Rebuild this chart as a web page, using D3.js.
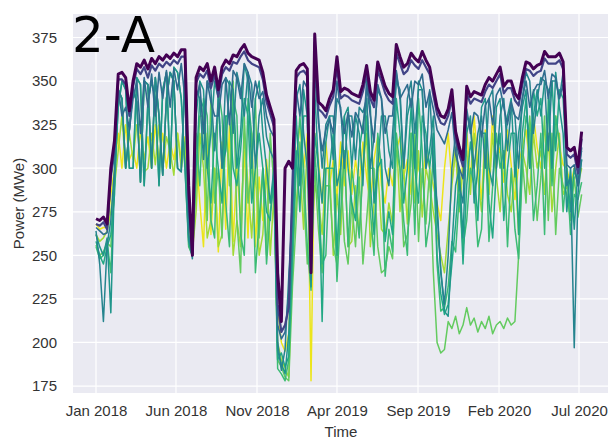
<!DOCTYPE html>
<html>
<head>
<meta charset="utf-8">
<script src="https://cdn.jsdelivr.net/npm/d3@7"></script>
<style>
  html, body { margin: 0; padding: 0; background: #ffffff; }
  svg { display: block; }
</style>
</head>
<body>
<svg id="chart" width="608" height="439"></svg>
<script>
// Weekly samples starting 2018-01-01, one value per week for each run.
const startDate = new Date(2018, 0, 1);
const weekCount = 132;

const yTicks = [175, 200, 225, 250, 275, 300, 325, 350, 375];
const xTickDates = ["2018-01-01", "2018-06-01", "2018-11-01", "2019-04-01", "2019-09-01", "2020-02-01", "2020-07-01"];
const xTickLabels = ["Jan 2018", "Jun 2018", "Nov 2018", "Apr 2019", "Sep 2019", "Feb 2020", "Jul 2020"];

// Colour position of each run on the viridis ramp (0 = dark purple, 1 = yellow)
const runShades = [0.97, 0.86, 0.76, 0.68, 0.6, 0.52, 0.45, 0.35, 0.2, 0.0];

const runY = [
  268,265,266,266,285,300,320,300,325,305, 310,300,322,305,318,300,325,305,320,300,
  315,305,320,305,318,268,255,310,280,255, 320,262,300,252,315,265,325,258,300,270,
  310,260,320,255,295,270,305,280,290,220, 200,195,205,260,305,325,300,320,178,320,
  305,280,315,290,305,282,315,290,310,285, 305,290,315,295,280,305,318,290,280,300,
  290,310,318,295,305,285,318,300,292,310, 300,290,280,270,300,320,292,312,282,305,
  322,292,330,302,282,322,292,330,302,312, 292,322,302,282,302,312,322,302,330,312,
  300,322,312,302,330,312,302,300,290,300, 300,300
];
const runYG = [
  262,258,260,264,275,290,310,330,300,320, 305,325,325,298,300,320,302,325,300,318,
  310,296,320,300,315,262,252,275,320,300, 260,270,300,255,262,320,300,250,270,255,
  320,290,260,300,250,262,300,250,285,200, 190,185,180,250,280,300,265,315,250,290,
  282,262,300,300,250,285,262,310,255,258, 290,262,300,320,255,280,300,265,262,280,
  268,320,275,300,268,320,280,310,272,300, 290,275,262,250,240,265,290,310,275,300,
  310,285,320,295,275,310,285,320,295,275, 310,285,275,300,262,310,300,285,320,300,
  310,285,320,275,300,320,285,290,280,300, 290,300
];
const runLG = [
  256,250,252,257,255,290,345,340,300,322, 345,338,292,350,348,300,352,330,296,340,
  355,350,300,298,355,256,250,290,330,330, 270,340,280,300,260,330,290,350,270,240,
  330,280,300,340,260,300,250,320,290,190, 186,180,178,232,270,315,285,245,282,300,
  265,240,290,290,255,245,300,258,245,280, 255,295,245,270,300,300,255,240,242,255,
  248,310,300,255,262,280,320,258,300,268, 300,240,200,194,196,212,208,215,205,210,
  220,210,214,206,212,208,215,205,210,212, 208,214,210,212,250,305,280,330,300,270,
  295,330,270,320,262,300,290,285,270,295, 272,285
];
const runG = [
  255,248,250,258,240,295,335,350,345,300, 300,352,348,290,338,350,340,290,345,355,
  300,358,355,340,300,255,250,320,290,340, 330,270,260,345,330,280,255,340,330,262,
  250,340,320,240,270,300,245,275,290,185, 182,178,190,242,300,330,300,255,230,310,
  280,245,250,300,300,235,275,310,255,300, 282,260,300,330,275,250,320,300,238,265,
  252,320,300,270,250,320,262,340,310,255, 270,310,245,218,220,232,258,252,285,255,
  270,300,290,255,265,320,258,290,320,300, 310,255,300,265,248,300,330,320,270,290,
  320,262,340,290,330,315,275,300,262,285, 282,292
];
const runGT = [
  258,250,245,255,262,285,345,340,300,322, 345,338,292,350,348,300,352,330,296,340,
  355,350,300,298,355,260,252,300,340,335, 300,280,320,300,280,330,330,300,290,310,
  340,330,280,300,320,300,275,270,300,190, 194,186,192,252,310,275,330,330,240,320,
  300,212,300,300,320,250,300,330,300,280, 270,310,325,340,290,262,300,305,258,275,
  262,340,320,280,300,335,300,280,330,320, 300,320,250,228,216,222,245,268,295,245,
  290,315,300,270,320,320,280,260,300,320, 270,300,320,320,262,320,340,300,345,330,
  340,300,330,350,310,345,340,300,275,300, 290,305
];
const runTG = [
  262,255,250,260,217,295,335,350,345,300, 300,352,348,290,338,350,340,290,345,355,
  300,358,355,340,300,258,250,330,350,345, 300,320,350,340,300,310,350,345,300,320,
  360,350,300,340,350,320,300,280,300,195, 188,182,205,262,330,290,345,330,232,345,
  300,280,315,330,330,290,300,330,335,300, 330,320,290,350,335,280,300,330,330,310,
  300,355,340,300,330,340,300,350,345,300, 310,330,275,242,218,215,255,290,300,260,
  320,330,280,300,335,340,300,290,335,340, 300,330,340,295,320,335,345,300,330,345,
  330,350,345,300,355,335,320,275,300,265, 300,310
];
const runT = [
  264,245,212,256,270,300,345,340,300,322, 345,338,292,350,348,300,352,330,296,340,
  355,350,300,298,355,262,248,345,340,305, 350,345,310,340,300,352,348,320,355,345,
  330,355,348,300,330,340,318,310,305,200, 184,196,238,275,340,348,320,300,236,355,
  330,300,325,330,305,340,335,300,330,330, 305,335,332,340,300,318,345,340,300,290,
  320,350,345,300,340,350,320,345,345,300, 345,300,280,240,222,250,300,320,290,280,
  330,325,300,320,330,300,340,345,300,330, 340,310,335,330,300,340,355,350,320,340,
  352,350,310,350,350,340,355,290,295,197, 285,305
];
const runBT = [
  266,264,262,263,294,308,346,330,335,322, 340,350,320,352,335,354,330,355,340,356,
  335,357,345,360,340,275,252,340,348,320, 350,338,330,330,348,352,325,356,352,340,
  360,355,335,350,340,344,330,322,318,210, 202,206,228,285,345,330,350,346,242,365,
  326,310,322,328,320,350,332,320,332,318, 332,328,320,348,330,315,348,340,320,330,
  330,356,340,344,348,335,350,348,354,335, 344,334,322,318,314,322,332,308,300,294,
  334,320,332,330,318,336,340,325,342,346, 335,325,338,330,328,340,350,335,344,348,
  348,356,340,354,352,340,348,302,300,302, 290,312
];
const runDB = [
  268,267,269,265,297,313,351,351,348,330, 347,357,354,358,352,359,356,360,358,361,
  359,362,360,364,364,284,250,349,354,352, 356,346,354,341,354,358,356,361,360,364,
  367,362,360,359,358,351,338,331,324,222, 206,210,220,292,352,355,356,353,245,372,
  334,332,329,336,341,358,340,342,341,339, 338,337,344,354,340,335,356,350,343,339,
  337,366,360,354,356,362,359,357,362,358, 354,342,331,326,325,330,340,317,308,301,
  343,337,340,339,338,344,348,346,350,354, 343,346,346,339,336,348,357,356,353,355,
  356,363,360,360,360,362,357,308,306,308, 297,317
];
const runP = [
  271,270,272,268,300,316,354,355,352,333, 350,360,358,362,357,363,360,364,362,365,
  363,366,364,368,368,290,250,352,358,356, 360,350,358,345,358,362,360,365,364,368,
  371,366,364,363,362,355,342,335,328,240, 212,300,304,300,356,359,360,357,240,377,
  338,336,333,340,345,364,344,346,345,343, 342,341,348,359,344,339,361,354,347,343,
  341,371,364,358,360,366,363,361,367,362, 358,346,335,330,329,334,345,321,312,305,
  347,341,344,343,342,348,352,350,354,358, 347,350,350,343,340,352,361,360,357,359,
  360,367,364,364,364,366,361,312,310,312, 301,321
];

// Drawing order: light runs first, the dark top run last
const runs = [runY, runYG, runLG, runG, runGT, runTG, runT, runBT, runDB, runP];
const runWidths = [1.5, 1.5, 1.5, 1.5, 1.5, 1.5, 1.5, 1.6, 2.2, 3.0];

const plot = { left: 73, right: 608, top: 14, bottom: 393 };
const font = "Liberation Sans, Arial, sans-serif";

const svg = d3.select("#chart");

const x = d3.scaleTime()
  .domain([new Date(2018, 0, 1), new Date(2020, 6, 1)])
  .range([96, 579]);
const y = d3.scaleLinear()
  .domain([171, 388.5])
  .range([plot.bottom, plot.top]);

const weekDates = d3.range(weekCount).map(i => d3.timeDay.offset(startDate, 7 * i));
const parse = d3.timeParse("%Y-%m-%d");

// Background panel
svg.append("rect")
  .attr("x", plot.left).attr("y", plot.top)
  .attr("width", plot.right - plot.left).attr("height", plot.bottom - plot.top)
  .attr("fill", "#eaeaf2");

// Grid
const grid = svg.append("g");
grid.selectAll("line.h").data(yTicks).join("line")
  .attr("x1", plot.left).attr("x2", plot.right)
  .attr("y1", d => y(d)).attr("y2", d => y(d))
  .attr("stroke", "#ffffff").attr("stroke-width", 1.2);
grid.selectAll("line.v").data(xTickDates).join("line")
  .attr("y1", plot.top).attr("y2", plot.bottom)
  .attr("x1", d => x(parse(d))).attr("x2", d => x(parse(d)))
  .attr("stroke", "#ffffff").attr("stroke-width", 1.2);

svg.append("clipPath").attr("id", "plotClip")
  .append("rect")
  .attr("x", plot.left).attr("y", plot.top)
  .attr("width", plot.right - plot.left).attr("height", plot.bottom - plot.top);

const line = d3.line()
  .x((d, i) => x(weekDates[i]))
  .y(d => y(d))
  .curve(d3.curveLinear);

svg.append("g").attr("clip-path", "url(#plotClip)")
  .selectAll("path").data(runs).join("path")
  .attr("d", d => line(d))
  .attr("fill", "none")
  .attr("stroke", (d, i) => d3.interpolateViridis(runShades[i]))
  .attr("stroke-width", (d, i) => runWidths[i])
  .attr("stroke-linejoin", "round");

// Axes (no tick marks, no domain line)
const xAxis = d3.axisBottom(x)
  .tickValues(xTickDates.map(parse))
  .tickFormat((d, i) => xTickLabels[i])
  .tickSize(0).tickPadding(12);
const gx = svg.append("g").attr("transform", `translate(0,${plot.bottom})`).call(xAxis);
gx.select(".domain").remove();
gx.selectAll("text").attr("font-family", font)
  .attr("font-size", 15).attr("fill", "#333");

const yAxis = d3.axisLeft(y).tickValues(yTicks).tickSize(0).tickPadding(16);
const gy = svg.append("g").attr("transform", `translate(${plot.left},0)`).call(yAxis);
gy.select(".domain").remove();
gy.selectAll("text").attr("font-family", font)
  .attr("font-size", 15).attr("fill", "#333");

svg.append("text")
  .attr("x", 341).attr("y", 437)
  .attr("text-anchor", "middle")
  .attr("font-family", font)
  .attr("font-size", 15).attr("fill", "#333")
  .text("Time");

svg.append("text")
  .attr("transform", `translate(24,${(plot.top + plot.bottom) / 2}) rotate(-90)`)
  .attr("text-anchor", "middle")
  .attr("font-family", font)
  .attr("font-size", 15).attr("fill", "#333")
  .text("Power (MWe)");

// Panel tag
svg.append("text")
  .attr("x", 72).attr("y", 52)
  .attr("font-family", "DejaVu Sans, sans-serif")
  .attr("font-size", 50).attr("fill", "#000")
  .text("2-A");
</script>
</body>
</html>
